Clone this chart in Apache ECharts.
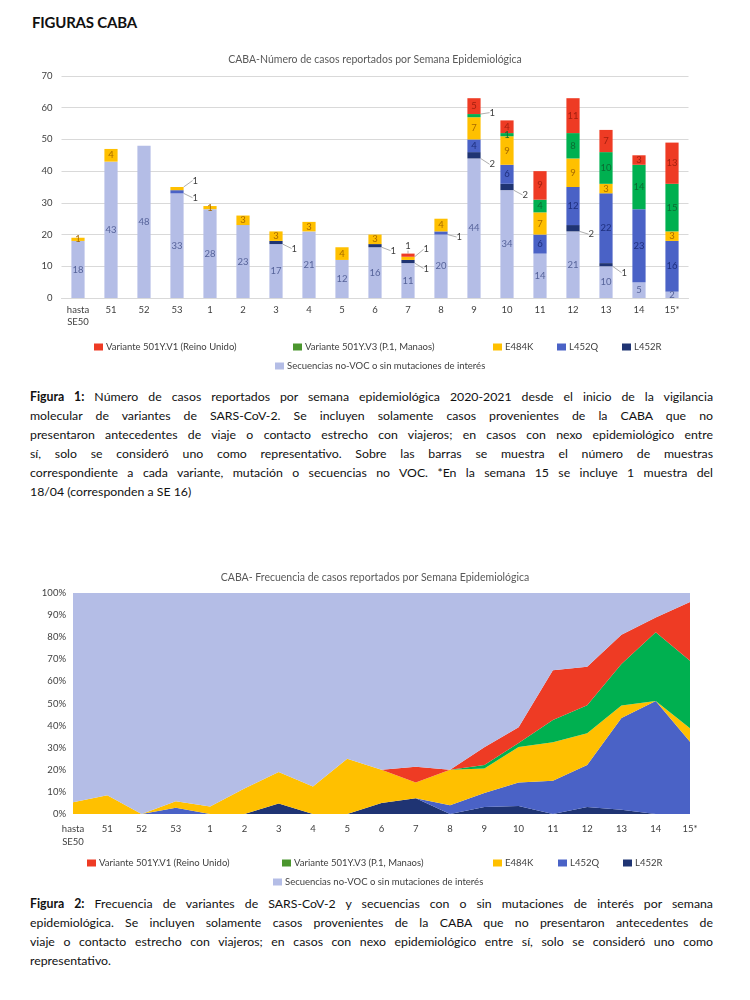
<!DOCTYPE html>
<html><head><meta charset="utf-8">
<script src="https://cdn.jsdelivr.net/npm/echarts@6/dist/echarts.min.js"></script>
<style>
body{margin:0;background:#fff;width:750px;height:1000px;position:relative;overflow:hidden;font-family:Lato,'Open Sans',sans-serif}
#h{position:absolute;left:32px;top:13px;font-weight:bold;font-size:15px;color:#111;letter-spacing:-0.2px}
.cap{position:absolute;left:30px;width:683px;font-size:12.3px;line-height:18.9px;color:#111}
.cap div{text-align:justify;text-align-last:justify;white-space:normal}
.cap div.last{text-align-last:left}
#c1{position:absolute;left:0;top:40px;width:750px;height:335px}
#c2{position:absolute;left:0;top:555px;width:750px;height:340px}
</style></head><body>
<div id="h">FIGURAS CABA</div>
<div id="c1"></div>
<div class="cap" style="top:388px">
<div><b>Figura 1:</b> Número de casos reportados por semana epidemiológica 2020-2021 desde el inicio de la vigilancia</div>
<div>molecular de variantes de SARS-CoV-2. Se incluyen solamente casos provenientes de la CABA que no</div>
<div>presentaron antecedentes de viaje o contacto estrecho con viajeros; en casos con nexo epidemiológico entre</div>
<div>sí, solo se consideró uno como representativo. Sobre las barras se muestra el número de muestras</div>
<div>correspondiente a cada variante, mutación o secuencias no VOC. *En la semana 15 se incluye 1 muestra del</div>
<div class="last">18/04 (corresponden a SE 16)</div>
</div>
<div id="c2"></div>
<div class="cap" style="top:895px">
<div><b>Figura 2:</b> Frecuencia de variantes de SARS-CoV-2 y secuencias con o sin mutaciones de interés por semana</div>
<div>epidemiológica. Se incluyen solamente casos provenientes de la CABA que no presentaron antecedentes de</div>
<div>viaje o contacto estrecho con viajeros; en casos con nexo epidemiológico entre sí, solo se consideró uno como</div>
<div class="last">representativo.</div>
</div>
<script>
// ---- data ----
const weeks = ['hasta\nSE50','51','52','53','1','2','3','4','5','6','7','8','9','10','11','12','13','14','15*'];
const noVOC = [18,43,48,33,28,23,17,21,12,16,11,20,44,34,14,21,10,5,2];
const l452r = [0,0,0,0,0,0,1,0,0,1,1,0,2,2,0,2,1,0,0];
const l452q = [0,0,0,1,0,0,0,0,0,0,0,1,4,6,6,12,22,23,16];
const e484k = [1,4,0,1,1,3,3,3,4,3,1,4,7,9,7,9,3,0,3];
const v3 = [0,0,0,0,0,0,0,0,0,0,0,0,1,1,4,8,10,14,15];
const v1 = [0,0,0,0,0,0,0,0,0,0,1,0,5,4,9,11,7,3,13];
const yTicks1 = [0,10,20,30,40,50,60,70];

const N_V1 = 'Variante 501Y.V1 (Reino Unido)';
const N_V3 = 'Variante 501Y.V3 (P.1, Manaos)';
const N_E = 'E484K', N_Q = 'L452Q', N_R = 'L452R';
const N_NO = 'Secuencias no-VOC o sin mutaciones de interés';

const col = {};
col[N_V1]='#EE3B24'; col[N_V3]='#00B050'; col[N_E]='#FFC000'; col[N_Q]='#4A62C6'; col[N_R]='#1F3473'; col[N_NO]='#B4BDE6';
const lblCol = {};
lblCol[N_V1]='#A3200F'; lblCol[N_V3]='#0B6B33'; lblCol[N_E]='#A86A00'; lblCol[N_Q]='#1E2F7E'; lblCol[N_R]='#111'; lblCol[N_NO]='#56639A';

// labels placed outside the bar with a guide line: [mode, dx, dy]
const outside = {};
outside[N_R] = {6:['r',9,6],9:['r',9,5],10:['r',9,7],12:['r',9,9],13:['r',9,8],15:['r',9,6],16:['r',9,8]};
outside[N_Q] = {3:['r',9,6],11:['r',9,4]};
outside[N_E] = {3:['r',9,-8],10:['r',9,-9]};
outside[N_V3] = {12:['r',9,-3]};
outside[N_V1] = {10:['c',0,-8]};

const FONT = 'Lato, "Open Sans", sans-serif';

function legends(top1, top2, xs){
  const names=[N_V1,N_V3,N_E,N_Q,N_R];
  const ts = {fontSize:9.5,color:'#404040',fontFamily:FONT,padding:[0,0,0,-2]};
  const arr = names.map((n,i)=>({
    data:[n===N_V3?{name:n,itemStyle:{color:'#4B962E'}}:n],
    left:xs[i], top:top1, itemWidth:9, itemHeight:7, icon:'rect', selectedMode:false, textStyle:ts
  }));
  arr.push({data:[N_NO],left:xs[5],top:top2,itemWidth:9,itemHeight:7,icon:'rect',selectedMode:false,textStyle:ts});
  return arr;
}

// ---- chart 1 ----
const c1 = echarts.init(document.getElementById('c1'));
const order1 = [[N_NO,noVOC],[N_R,l452r],[N_Q,l452q],[N_E,e484k],[N_V3,v3],[N_V1,v1]];
c1.setOption({
  animation:false,
  title:{text:'CABA-Número de casos reportados por Semana Epidemiológica',left:'center',top:9,
    textStyle:{fontSize:10.5,fontWeight:'normal',color:'#595959',fontFamily:FONT}},
  legend:legends(297,316,[89,288,488,552,617,270]),
  grid:{left:61.5,right:61.5,top:36,bottom:77},
  xAxis:{type:'category',data:weeks,axisTick:{show:false},
    axisLine:{lineStyle:{color:'#d9d9d9'}},
    axisLabel:{fontSize:9.5,color:'#404040',fontFamily:FONT,interval:0,lineHeight:12,margin:6}},
  yAxis:{type:'value',min:yTicks1[0],max:yTicks1[yTicks1.length-1],interval:10,
    axisLabel:{fontSize:9.5,color:'#404040',fontFamily:FONT,margin:9},
    splitLine:{lineStyle:{color:'#d9d9d9'}}},
  series:order1.map(([name,vals])=>({
    name, type:'bar', stack:'a', barWidth:'40%',
    data:vals.map((v,i)=>(outside[name]&&outside[name][i])?{value:v,label:{color:'#404040'}}:v),
    itemStyle:{color:col[name]},
    label:{show:true,position:'inside',fontSize:9.5,fontFamily:FONT,color:lblCol[name],
      formatter:p=>p.value?String(p.value):''},
    labelLine:{show:true,lineStyle:{color:'#999',width:0.8}},
    labelLayout:function(p){
      const o = outside[name] && outside[name][p.dataIndex];
      if(!o) return {};
      const r = p.rect;
      if(o[0]==='c') return {x:r.x+r.width/2+o[1], y:r.y+o[2], align:'center', verticalAlign:'middle'};
      return {x:r.x+r.width+o[1], y:r.y+r.height/2+o[2], align:'left', verticalAlign:'middle'};
    }
  }))
});

// ---- chart 2 ----
const totals = weeks.map((w,i)=>noVOC[i]+l452r[i]+l452q[i]+e484k[i]+v3[i]+v1[i]);
const share = a => a.map((v,i)=>v/totals[i]);
const order2 = [[N_R,l452r],[N_Q,l452q],[N_E,e484k],[N_V3,v3],[N_V1,v1],[N_NO,noVOC]];
const c2 = echarts.init(document.getElementById('c2'));
c2.setOption({
  animation:false,
  title:{text:'CABA- Frecuencia de casos reportados por Semana Epidemiológica',left:'center',top:12,
    textStyle:{fontSize:10.5,fontWeight:'normal',color:'#595959',fontFamily:FONT}},
  legend:legends(298,317,[82,277,488,553,618,268]),
  grid:{left:73,right:60,top:38,bottom:81},
  xAxis:{type:'category',data:weeks,boundaryGap:false,axisTick:{show:false},axisLine:{show:false},
    axisLabel:{fontSize:9.5,color:'#404040',fontFamily:FONT,interval:0,lineHeight:13,margin:8}},
  yAxis:{type:'value',min:0,max:1,interval:0.1,splitLine:{show:false},
    axisLabel:{fontSize:9.5,color:'#404040',fontFamily:FONT,margin:7,formatter:v=>Math.round(v*100)+'%'}},
  series:order2.map(([name,vals])=>({
    name,type:'line',stack:'p',data:share(vals),symbol:'none',
    lineStyle:{width:0},itemStyle:{color:col[name]},
    areaStyle:{color:col[name],opacity:1}
  }))
});
</script>
</body></html>
